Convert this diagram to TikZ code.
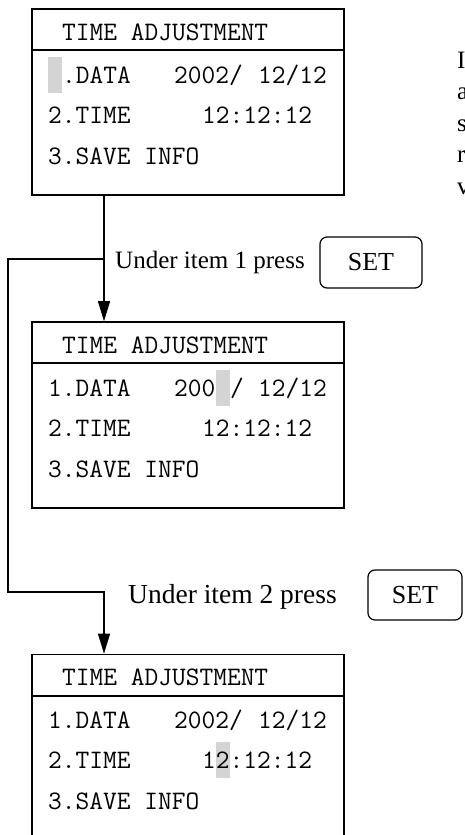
\documentclass[tikz,border=0pt]{standalone}
\usepackage{fontspec}
\newfontfamily\timesfont{Liberation Serif}
\usetikzlibrary{arrows.meta,calc}
\tikzset{
  scr/.style={draw,line width=1.6pt,rectangle,inner sep=0pt,minimum width=312pt,minimum height=186pt},
  sepline/.style={line width=1.6pt},
  mono/.style={anchor=base west,inner sep=0pt,font=\ttfamily\fontsize{26.67pt}{30pt}\selectfont},
  hl/.style={fill=black!17,draw=none,inner sep=0pt,minimum width=14pt,minimum height=36pt},
  lbl/.style={anchor=base west,inner sep=0pt,font=\timesfont\fontsize{25pt}{30pt}\selectfont},
  setbtn/.style={draw,line width=1.2pt,rounded corners=7pt,inner sep=0pt,font=\timesfont\fontsize{26pt}{30pt}\selectfont},
  conn/.style={line width=1.1pt},
  arr/.style={conn,-{Triangle[length=20pt,width=12pt]}}
}
\begin{document}
\begin{tikzpicture}[x=1pt,y=-1pt]
\useasboundingbox (0,0) rectangle (464,835);
\clip (0,0) rectangle (464,835);
% screen 1
\node[scr] (s1) at (188,102) {};
\draw[sepline] ($(s1.north west)+(0,42)$) -- ($(s1.north east)+(0,42)$);
\node[mono] (s1h) at (62,40) {TIME ADJUSTMENT};
\node[hl] (h1) at (55,75) {};
\node[mono] (s1a) at (62,83) {.DATA};
\node[mono] (s1b) at (174,83) {2002/};
\node[mono] (s1c) at (258,83) {12/12};
\node[mono] (s1d) at (48,123) {2.TIME};
\node[mono] (s1e) at (202,123) {12:12:12};
\node[mono] (s1f) at (48,164) {3.SAVE INFO};
% screen 2
\node[scr] (s2) at (188,415) {};
\draw[sepline] ($(s2.north west)+(0,42)$) -- ($(s2.north east)+(0,42)$);
\node[mono] (s2h) at (62,353) {TIME ADJUSTMENT};
\node[hl] (h2) at (223,388) {};
\node[mono] (s2a) at (48,396) {1.DATA};
\node[mono] (s2b) at (174,396) {200};
\node[mono] (s2b2) at (230,396) {/};
\node[mono] (s2c) at (258,396) {12/12};
\node[mono] (s2d) at (48,436) {2.TIME};
\node[mono] (s2e) at (202,436) {12:12:12};
\node[mono] (s2f) at (48,477) {3.SAVE INFO};
% screen 3
\node[scr] (s3) at (188,747.5) {};
\draw[sepline] ($(s3.north west)+(0,42)$) -- ($(s3.north east)+(0,42)$);
\node[mono] (s3h) at (62,685) {TIME ADJUSTMENT};
\node[hl] (h3) at (223,760) {};
\node[mono] (s3a) at (48,728) {1.DATA};
\node[mono] (s3b) at (174,728) {2002/};
\node[mono] (s3c) at (258,728) {12/12};
\node[mono] (s3d) at (48,768) {2.TIME};
\node[mono] (s3e) at (202,768) {12:12:12};
\node[mono] (s3f) at (48,809) {3.SAVE INFO};
% connectors
\coordinate (j1) at (104,259);
\coordinate (k1) at (8,592);
\coordinate (j2) at (104,592);
\draw[arr] (s1.south -| j1) -- (s2.north -| j1);
\draw[arr] (j1) -| (k1) -- (j2) -- (s3.north -| j2);
% labels
\node[lbl] (l1) at (115,268) {Under item 1 press};
\node[setbtn,minimum width=102pt,minimum height=51pt] (b1) at (371,262.5) {SET};
\node[lbl,font=\timesfont\fontsize{27.5pt}{30pt}\selectfont] (l2) at (128,603) {Under item 2 press};
\node[setbtn,minimum width=94pt,minimum height=50pt] (b2) at (415,595) {SET};
% clipped side text
\node[lbl] (r1) at (457,68) {I};
\node[lbl] (r2) at (457,99.5) {a};
\node[lbl] (r3) at (457,131) {s};
\node[lbl] (r4) at (457,162.5) {r};
\node[lbl] (r5) at (457,194) {v};
\end{tikzpicture}
\end{document}
